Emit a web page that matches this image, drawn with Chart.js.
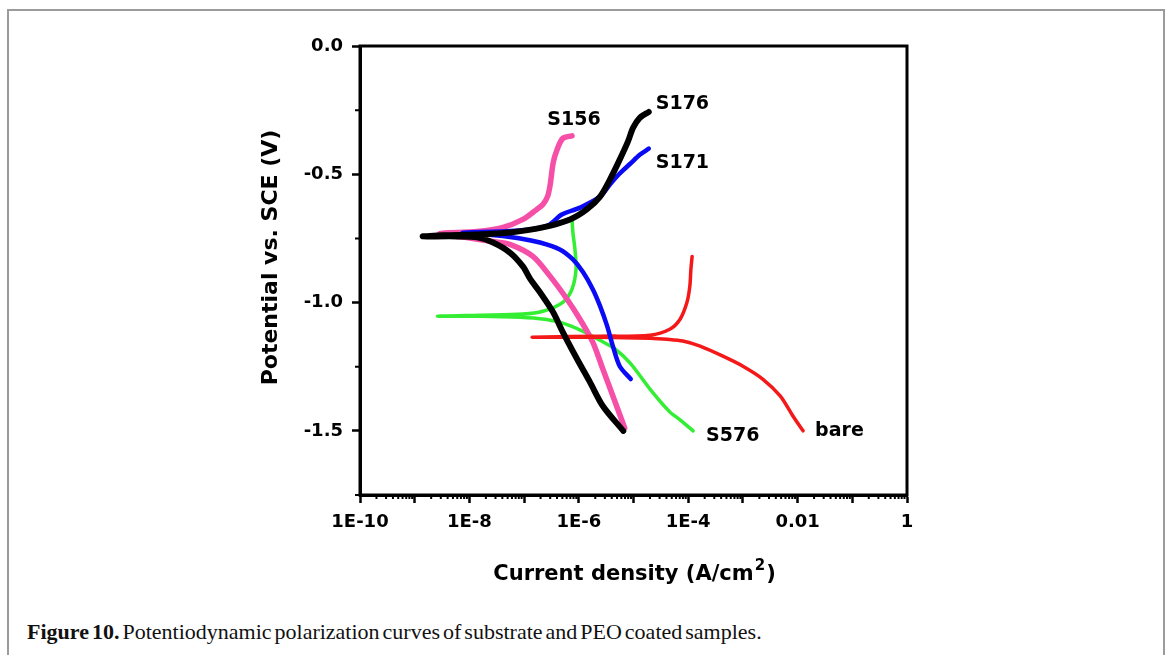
<!DOCTYPE html>
<html>
<head>
<meta charset="utf-8">
<script src="https://cdn.jsdelivr.net/npm/chart.js@4.4.1/dist/chart.umd.min.js"></script>
<style>
    html, body { margin: 0; padding: 0; background: #fff; }
    body { width: 1170px; height: 655px; position: relative; overflow: hidden; }
    .frame {
        position: absolute; left: 7px; top: 9px; width: 1154px; height: 700px;
        border: 2px solid #9b9b9b; border-bottom: none;
    }
    .plot { position: absolute; left: 0; top: 0; width: 1170px; height: 600px; }
    .caption {
        position: absolute; left: 27px; top: 619px;
        font: 22px "Liberation Serif", serif; color: #111; word-spacing: -2.5px;
    }
    .caption b { font-weight: bold; }
</style>
</head>
<body>
<div class="frame"></div>
<div class="plot"><canvas id="polarization"></canvas></div>
<div class="caption"><b>Figure 10.</b> Potentiodynamic polarization curves of substrate and PEO coated samples.</div>

<script>
// axis ticks
const xTickValues = [1e-10, 1e-9, 1e-8, 1e-7, 1e-6, 1e-5, 1e-4, 1e-3, 1e-2, 1e-1, 1];
const xTickLabels = ['1E-10', '', '1E-8', '', '1E-6', '', '1E-4', '', '0.01', '', '1'];
const yTickValues = [0, -0.5, -1.0, -1.5];
const yTickLabels = ['0.0', '-0.5', '-1.0', '-1.5'];
const yMinorTicks = [-0.25, -0.75, -1.25, -1.75];

// S176 - cathodic branch from -1.5 V up to Ecorr, then anodic branch
const s176Current = [6.5e-6, 2.75e-6, 1.6e-6, 9.3e-7, 5.1e-7, 3.4e-7, 1.95e-7, 1.3e-7, 9.5e-8, 5.5e-8, 2.7e-8, 1.4e-8, 5.9e-9, 1.4e-9,
    3.3e-9, 1.4e-8, 5.5e-8, 2.2e-7, 6.9e-7, 1.4e-6, 2.45e-6, 3.7e-6, 5.6e-6, 7.9e-6, 9.8e-6, 1.3e-5, 1.9e-5];
const s176Potential = [-1.50, -1.403, -1.31, -1.22, -1.115, -1.038, -0.96, -0.909, -0.859, -0.805, -0.766, -0.746, -0.742, -0.742,
    -0.738, -0.735, -0.727, -0.707, -0.676, -0.637, -0.587, -0.521, -0.443, -0.373, -0.319, -0.28, -0.257];

// S171
const s171Current = [8.9e-6, 5.6e-6, 4.2e-6, 3.3e-6, 2.45e-6, 1.8e-6, 1.2e-6, 7.8e-7, 4.5e-7, 1.95e-7, 8.5e-8, 2.9e-8, 7.6e-9,
    3.6e-8, 1.3e-7, 2.7e-7, 4.9e-7, 1.05e-6, 2.45e-6, 3.7e-6, 5.6e-6, 8.7e-6, 1.3e-5, 1.9e-5];
const s171Potential = [-1.298, -1.248, -1.17, -1.092, -1.014, -0.948, -0.882, -0.832, -0.793, -0.766, -0.75, -0.738, -0.727,
    -0.723, -0.715, -0.70, -0.657, -0.63, -0.587, -0.54, -0.497, -0.459, -0.424, -0.40];

// bare substrate
const bareCurrent = [1.26e-2, 8.2e-3, 4.8e-3, 2.3e-3, 1.0e-3, 4.3e-4, 1.65e-4, 8.0e-5, 4.1e-5, 2.0e-5, 2.45e-6, 1.4e-7,
    2.45e-6, 2.0e-5, 4.6e-5, 7.1e-5, 9.5e-5, 1.07e-4, 1.12e-4, 1.18e-4];
const barePotential = [-1.50, -1.442, -1.364, -1.298, -1.248, -1.209, -1.17, -1.15, -1.143, -1.139, -1.135, -1.135,
    -1.131, -1.127, -1.104, -1.065, -0.999, -0.937, -0.871, -0.82];

// S156
const s156Current = [6.9e-6, 4.2e-6, 2.75e-6, 1.8e-6, 1.05e-6, 6.1e-7, 3.0e-7, 1.45e-7, 5.5e-8, 2.7e-8, 8.3e-9, 2.9e-9,
    1.4e-8, 4.1e-8, 9.5e-8, 1.7e-7, 2.2e-7, 2.7e-7, 3.0e-7, 3.4e-7, 4.0e-7, 5.1e-7, 7.5e-7];
const s156Potential = [-1.489, -1.364, -1.259, -1.154, -1.065, -0.987, -0.898, -0.82, -0.773, -0.762, -0.746, -0.731,
    -0.723, -0.707, -0.676, -0.637, -0.618, -0.585, -0.54, -0.455, -0.404, -0.36, -0.35];

// S576
const s576Current = [1.23e-4, 7.1e-5, 4.6e-5, 2.0e-5, 8.7e-6, 4.6e-6, 2.45e-6, 1.2e-6, 5.1e-7, 2.4e-7, 8.5e-8, 1.55e-8, 2.6e-9,
    1.55e-8, 9.5e-8, 2.2e-7, 5.1e-7, 7.5e-7, 8.9e-7, 8.5e-7, 7.8e-7, 7.5e-7];
const s576Potential = [-1.50, -1.457, -1.426, -1.337, -1.236, -1.181, -1.147, -1.112, -1.08, -1.065, -1.057, -1.053, -1.053,
    -1.049, -1.045, -1.034, -0.999, -0.948, -0.871, -0.793, -0.727, -0.668];

const toPoints = (xs, ys) => xs.map((v, i) => ({ x: v, y: ys[i] }));

const curve = (label, xs, ys, color, width, labelAt, labelDx, labelDy, labelAlign) => ({
    label: label,
    data: toPoints(xs, ys),
    borderColor: color,
    backgroundColor: color,
    borderWidth: width,
    pointRadius: 0,
    tension: 0.3,
    borderCapStyle: 'round',
    borderJoinStyle: 'round',
    showLine: true,
    labelAt, labelDx, labelDy, labelAlign,
});

const boldFont = (size) => `bold ${size}px "DejaVu Sans", sans-serif`;

const figureExtras = {
    id: 'figureExtras',
    afterDraw(chart) {
        const { ctx, chartArea: a, scales: { x, y } } = chart;
        ctx.save();

        // frame round the plot
        ctx.strokeStyle = '#000';
        ctx.lineWidth = 3;
        ctx.strokeRect(a.left, a.top, a.right - a.left, a.bottom - a.top);

        // minor ticks
        ctx.lineWidth = 2;
        ctx.beginPath();
        for (let e = -10; e < 0; e++) {
            for (let k = 2; k < 10; k++) {
                const px = x.getPixelForValue(k * Math.pow(10, e));
                ctx.moveTo(px, a.bottom);
                ctx.lineTo(px, a.bottom + 4);
            }
        }
        yMinorTicks.forEach(v => {
            const py = y.getPixelForValue(v);
            ctx.moveTo(a.left, py);
            ctx.lineTo(a.left - 5, py);
        });
        ctx.stroke();

        // curve names
        ctx.fillStyle = '#000';
        ctx.font = boldFont(19);
        ctx.textBaseline = 'middle';
        chart.data.datasets.forEach((ds, i) => {
            const pts = chart.getDatasetMeta(i).data;
            const p = ds.labelAt === 'first' ? pts[0] : pts[pts.length - 1];
            ctx.textAlign = ds.labelAlign;
            ctx.fillText(ds.label, p.x + ds.labelDx, p.y + ds.labelDy);
        });

        // y title
        ctx.save();
        ctx.translate(a.left - 89, (a.top + a.bottom) / 2 - 13);
        ctx.rotate(-Math.PI / 2);
        ctx.textAlign = 'center';
        ctx.font = boldFont(22);
        ctx.fillText('Potential vs. SCE (V)', 0, 0);
        ctx.restore();

        // x title with superscript
        const main = 'Current density (A/cm';
        ctx.textBaseline = 'alphabetic';
        ctx.textAlign = 'left';
        ctx.font = boldFont(21);
        const w1 = ctx.measureText(main).width;
        const w3 = ctx.measureText(')').width;
        ctx.font = boldFont(15);
        const w2 = ctx.measureText('2').width;
        let tx = (a.left + a.right) / 2 - (w1 + w2 + w3) / 2;
        const ty = a.bottom + 85;
        ctx.font = boldFont(21);
        ctx.fillText(main, tx, ty);
        tx += w1;
        ctx.font = boldFont(15);
        ctx.fillText('2', tx + 1, ty - 10);
        tx += w2 + 2;
        ctx.font = boldFont(21);
        ctx.fillText(')', tx, ty);

        ctx.restore();
    }
};

new Chart(document.getElementById('polarization').getContext('2d'), {
    type: 'line',
    data: {
        datasets: [
            curve('S176', s176Current, s176Potential, '#000000', 6, 'last', 7, -8, 'left'),
            curve('S171', s171Current, s171Potential, '#0a0af5', 4.5, 'last', 7, 14, 'left'),
            curve('bare', bareCurrent, barePotential, '#f41818', 3.5, 'first', 12, 0, 'left'),
            curve('S156', s156Current, s156Potential, '#f64fa8', 5.5, 'last', 2, -16, 'center'),
            curve('S576', s576Current, s576Potential, '#33ee33', 3.5, 'first', 13, 5, 'left'),
        ]
    },
    options: {
        responsive: true,
        maintainAspectRatio: false,
        animation: false,
        layout: {
            padding: { left: 250, top: 46, right: 263, bottom: 0 }
        },
        scales: {
            x: {
                type: 'logarithmic',
                min: 1e-10,
                max: 1,
                afterBuildTicks: (scale) => {
                    scale.ticks = xTickValues.map(v => ({ value: v }));
                },
                afterFit: (scale) => { scale.height = 105; },
                border: { color: '#000', width: 3 },
                grid: {
                    drawOnChartArea: false,
                    drawTicks: true,
                    tickLength: 8,
                    tickWidth: 2.5,
                    tickColor: '#000',
                },
                ticks: {
                    autoSkip: false,
                    maxRotation: 0,
                    padding: 9,
                    color: '#000',
                    font: { family: 'DejaVu Sans', weight: 'bold', size: 18 },
                    callback: (value, index) => xTickLabels[index],
                },
            },
            y: {
                type: 'linear',
                min: -1.75,
                max: 0,
                afterBuildTicks: (scale) => {
                    scale.ticks = yTickValues.map(v => ({ value: v }));
                },
                afterFit: (scale) => { scale.width = 110; },
                border: { color: '#000', width: 3 },
                grid: {
                    drawOnChartArea: false,
                    drawTicks: true,
                    tickLength: 8,
                    tickWidth: 2.5,
                    tickColor: '#000',
                },
                ticks: {
                    padding: 9,
                    color: '#000',
                    font: { family: 'DejaVu Sans', weight: 'bold', size: 18 },
                    callback: (value, index) => yTickLabels[index],
                },
            },
        },
        plugins: {
            legend: { display: false },
            tooltip: { enabled: false },
        }
    },
    plugins: [figureExtras]
});
</script>
</body>
</html>
